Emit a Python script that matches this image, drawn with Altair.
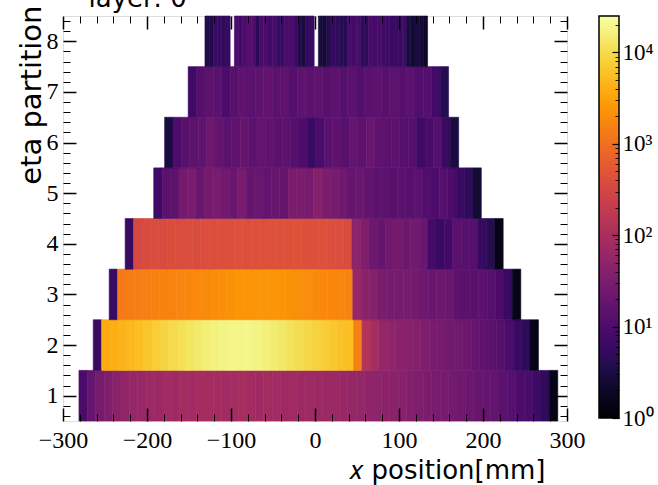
import altair as alt
import pandas as pd

# ---------------- data (counts per x-bin, per eta partition) ----------------
eta_rows = [1, 2, 3, 4, 5, 6, 7, 8]
row_start_mm = [-281, -264, -245, -226, -192, -179, -151, -131]
row_bin_mm = [10, 10, 10, 10, 10, 10, 10, 5]

row1 = [9, 18, 28, 35, 45, 55, 60, 65, 70, 72, 80, 75, 85, 80, 90, 85, 88, 80, 85, 90,
        82, 78, 85, 80, 75, 80, 72, 75, 70, 68, 72, 65, 60, 56, 52, 50, 48, 45, 42, 38,
        35, 32, 30, 28, 25, 23, 21, 19, 18, 17, 14, 12, 10, 9, 7, 5, 1.5]
row2 = [6, 3800, 4000, 4400, 5000, 5600, 6400, 7500, 8600, 9800, 11000, 12500, 14000,
        15500, 17000, 18000, 19000, 18500, 19000, 18000, 16500, 15000, 13500, 12000,
        10500, 9500, 8500, 7500, 6800, 6000, 5500, 1500, 130, 90, 60, 50, 45, 42, 40,
        35, 30, 28, 25, 24, 22, 18, 16, 14, 13, 10, 6, 5, 1.5]
row3 = [6, 1300, 1400, 1450, 1500, 1550, 1600, 1650, 1700, 1750, 1800, 1900, 2000, 2100,
        2200, 2300, 2300, 2400, 2300, 2400, 2300, 2200, 2100, 2000, 1900, 1800, 1800,
        1700, 1600, 60, 45, 40, 30, 28, 27, 28, 25, 22, 20, 22, 20, 15, 14, 13, 14, 12,
        10, 6, 1.5]
row4 = [6, 330, 360, 380, 370, 390, 380, 400, 390, 410, 400, 420, 410, 430, 420, 440,
        430, 450, 440, 430, 450, 440, 420, 430, 410, 400, 380, 50, 35, 22, 18, 24, 26,
        22, 25, 20, 8, 6, 8, 14, 13, 12, 6, 4, 1.5]
row5 = [7, 14, 15, 26, 30, 20, 26, 30, 24, 20, 30, 18, 20, 17, 19, 18, 30, 32, 28, 40,
        32, 28, 24, 18, 20, 17, 14, 15, 13, 14, 13, 14, 11, 10, 12, 10, 6, 5, 2.5]
row6 = [3, 10, 13, 15, 16, 22, 17, 14, 16, 18, 15, 17, 16, 14, 15, 12, 10, 6, 9, 14,
        16, 13, 17, 15, 20, 16, 14, 15, 13, 12, 7, 9, 12, 6, 3]
row7 = [7, 12, 15, 14, 10, 13, 16, 14, 15, 17, 14, 16, 12, 15, 14, 16, 13, 15, 12, 14,
        11, 14, 15, 13, 15, 12, 14, 11, 12, 8, 4]
row8 = [3.5, 3.5, 6, 6, 5, 6, 0, 9, 8, 10, 12, 11, 4.5, 9, 10, 8, 9, 6, 6, 9, 10, 7, 3.5,
        3, 5, 6, 0, 3, 2.5, 4, 6, 5, 4, 4, 9, 8, 9, 5, 5, 9, 8, 9, 7, 7, 6, 7, 6, 7, 3,
        2.5, 3, 2.5, 2]
row_counts = [row1, row2, row3, row4, row5, row6, row7, row8]

x_major = [-300, -200, -100, 0, 100, 200, 300]
x_minor = [v for v in range(-280, 300, 20) if v % 100 != 0]
y_major = [1, 2, 3, 4, 5, 6, 7, 8]
y_minor = [round(0.6 + 0.2 * i, 1) for i in range(40)]
y_minor = [v for v in y_minor if abs(v - round(v)) > 1e-6]
cb_major = [1, 10, 100, 1000, 10000]
cb_minor = [m * 10 ** e for e in range(5) for m in range(2, 10) if m * 10 ** e < 25000]

records = []
for eta, start, w, vals in zip(eta_rows, row_start_mm, row_bin_mm, row_counts):
    for i, v in enumerate(vals):
        if v > 0:
            records.append({"eta": eta, "x0": start + i * w, "x1": start + (i + 1) * w,
                            "y0": eta - 0.5, "y1": eta + 0.5, "count": v})
df = pd.DataFrame(records)

SERIF = "Liberation Serif"
SANS = "DejaVu Sans"
W, H = 504, 405

xscale = alt.Scale(domain=[-300, 300], nice=False, zero=False)
yscale = alt.Scale(domain=[0.5, 8.5], nice=False, zero=False)
cscale = alt.Scale(type="log", domain=[1, 25000], scheme="inferno")

base = alt.Chart(df)

heat = base.mark_rect(
    strokeWidth=0.6, stroke={"expr": "scale('color', datum.count)"}
).encode(
    x=alt.X("x0:Q", scale=xscale, axis=alt.Axis(
        orient="bottom", values=x_major, ticks=False, tickSize=0, domain=False, grid=False,
        labelFont=SERIF, labelFontSize=24, labelColor="black", labelPadding=7,
        labelFlush=False, labelOverlap=False,
        title="𝑥 position[mm]", titleFont=SANS, titleFontSize=26, titleFontWeight="normal",
        titleColor="black", titleAlign="right", titleBaseline="alphabetic",
        titleX=482, titleY=57)),
    x2="x1:Q",
    y=alt.Y("y0:Q", scale=yscale, axis=alt.Axis(
        orient="left", values=y_major, ticks=False, tickSize=0, domain=False, grid=False,
        labelFont=SERIF, labelFontSize=24, labelColor="black", labelPadding=5,
        title="eta partition", titleFont=SANS, titleFontSize=29, titleFontWeight="normal",
        titleColor="black", titleAngle=270, titleAlign="right", titleBaseline="alphabetic",
        titleX=-23, titleY=-11)),
    y2="y1:Q",
    color=alt.Color("count:Q", scale=cscale, legend=alt.Legend(
        type="gradient", orient="none", legendX=W + 32, legendY=0, direction="vertical",
        gradientLength=H - 3, gradientThickness=20, title=None, labelExpr="''",
        gradientStrokeColor="black", gradientStrokeWidth=1.5)),
)


def x_tick_layer(orient, vals, size, width, **extra):
    return base.mark_point(opacity=0).encode(
        x=alt.X("x0:Q", scale=xscale, axis=alt.Axis(
            orient=orient, values=vals, tickSize=size, offset=-size, labels=False,
            domain=False, grid=False, ticks=True, tickColor="black", tickWidth=width,
            zindex=2, **extra)))


def y_tick_layer(orient, vals, size, width):
    return base.mark_point(opacity=0).encode(
        y=alt.Y("y0:Q", scale=yscale, axis=alt.Axis(
            orient=orient, values=vals, tickSize=size, offset=-size, labels=False,
            domain=False, grid=False, ticks=True, tickColor="black", tickWidth=width,
            title=None, zindex=2)))


cbscale = alt.Scale(type="log", domain=[1, 25000], nice=False, range=[H - 3, 0])


def cb_layer(vals, size, offset, labels):
    if labels:
        ax = alt.Axis(orient="right", values=vals, ticks=False, tickSize=0, offset=offset,
                      domain=False, grid=False, labelFont=SERIF, labelFontSize=23,
                      labelColor="black", labelPadding=3, labelFlush=False,
                      labelOverlap=False, title=None,
                      labelExpr="'10' + (datum.value < 5 ? '⁰' : datum.value < 50 ? '¹' : "
                                "datum.value < 500 ? '²' : datum.value < 5000 ? '³' : '⁴')")
    else:
        ax = alt.Axis(orient="right", values=vals, tickSize=size, offset=offset,
                      labels=False, domain=False, grid=False, ticks=True,
                      tickColor="black", tickWidth=1.2 if size > 5 else 0.9,
                      title=None, zindex=2)
    return base.mark_point(opacity=0).encode(
        y=alt.Y("count:Q", scale=cbscale, axis=ax))


layers = [
    heat,
    x_tick_layer("bottom", x_major, 13, 1.5, title=None),
    x_tick_layer("bottom", x_minor, 7, 1.0, title=None),
    x_tick_layer("top", x_major, 13, 1.5, title="layer: 0", titleFont=SANS,
                 titleFontSize=26, titleFontWeight="normal", titleColor="black",
                 titleAlign="left", titleBaseline="alphabetic", titleX=25, titleY=-23),
    x_tick_layer("top", x_minor, 7, 1.0, title=None),
    y_tick_layer("left", y_major, 13, 1.5),
    y_tick_layer("left", y_minor, 7, 1.0),
    y_tick_layer("right", y_major, 13, 1.5),
    y_tick_layer("right", y_minor, 7, 1.0),
    cb_layer(cb_major, 7, 52 - 7, False),
    cb_layer(cb_minor, 4, 52 - 4, False),
    cb_layer(cb_major, 0, 52, True),
]

chart = alt.layer(*layers).resolve_scale(
    y="independent"
).resolve_axis(
    x="independent", y="independent"
).properties(
    width=W, height=H,
    autosize=alt.AutoSizeParams(type="none"),
    padding={"left": 63, "top": 16, "right": 658 - 63 - W, "bottom": 485 - 16 - H},
).configure_view(
    stroke="black", strokeWidth=1.5
).configure(background="white")

chart.save("out.html", embed_options={"renderer": "svg", "actions": False})
